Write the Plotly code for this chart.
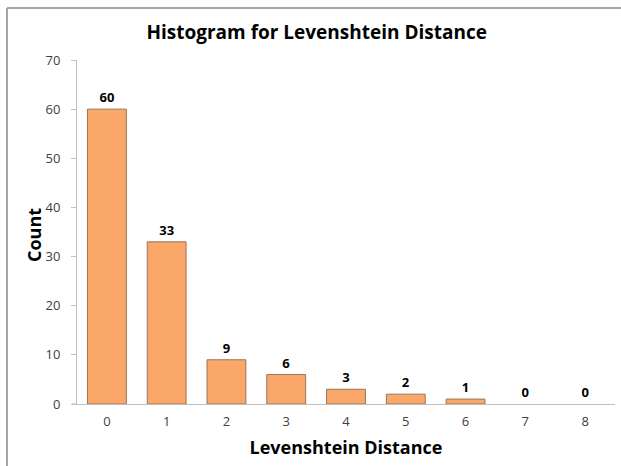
import plotly.graph_objects as go

categories = ["0", "1", "2", "3", "4", "5", "6", "7", "8"]
counts = [60, 33, 9, 6, 3, 2, 1, 0, 0]
y_ticks = [0, 10, 20, 30, 40, 50, 60, 70]

FONT = "Open Sans"

fig = go.Figure(
    go.Bar(
        x=categories,
        y=counts,
        text=[str(c) for c in counts],
        textposition="outside",
        textfont=dict(family=FONT, size=13, color="#000000", weight="bold"),
        marker=dict(
            color="#F9A86A",
            line=dict(color="#9A7558", width=[1 if c > 0 else 0 for c in counts]),
        ),
        cliponaxis=False,
    )
)

L, R, T, B = 77, 615, 60, 404
px_x = lambda p: (p - L) / (R - L)
px_y = lambda p: (B - p) / (B - T)

fig.update_layout(
    width=621,
    height=466,
    margin=dict(l=L, r=621 - R, t=T, b=466 - B),
    paper_bgcolor="white",
    plot_bgcolor="white",
    bargap=0.35,
    showlegend=False,
    title=dict(
        text="<b>Histogram for Levenshtein Distance</b>",
        x=0.51,
        xanchor="center",
        y=0.93,
        yanchor="middle",
        font=dict(family=FONT, size=19, color="#000000"),
    ),
    xaxis=dict(
        type="category",
        range=[-0.5, 8.5],
        showline=True,
        linecolor="#BFBFBF",
        linewidth=1,
        ticks="",
        showgrid=False,
        ticklabelstandoff=5,
        tickfont=dict(family=FONT, size=13, color="#404040"),
        title=dict(
            text="<b>Levenshtein Distance</b>",
            font=dict(family=FONT, size=18, color="#000000"),
            standoff=12,
        ),
    ),
    yaxis=dict(
        range=[0, 70],
        tickvals=y_ticks,
        showline=True,
        linecolor="#BFBFBF",
        linewidth=1,
        ticks="outside",
        ticklen=5,
        tickcolor="#BFBFBF",
        showgrid=False,
        zeroline=False,
        ticklabelstandoff=8,
        tickfont=dict(family=FONT, size=13, color="#404040"),
    ),
    annotations=[
        dict(
            text="<b>Count</b>",
            xref="paper",
            yref="paper",
            x=px_x(34),
            y=px_y(235),
            xanchor="center",
            yanchor="middle",
            textangle=-90,
            showarrow=False,
            font=dict(family=FONT, size=18, color="#000000"),
        )
    ],
    shapes=[
        dict(
            type="line",
            xref="paper",
            yref="paper",
            x0=px_x(72),
            x1=0,
            y0=0,
            y1=0,
            line=dict(color="#BFBFBF", width=1),
        ),
        dict(
            type="line",
            xref="paper",
            yref="paper",
            x0=px_x(7),
            x1=px_x(621),
            y0=px_y(8),
            y1=px_y(8),
            line=dict(color="#A6A6A6", width=2),
        ),
        dict(
            type="line",
            xref="paper",
            yref="paper",
            x0=px_x(7),
            x1=px_x(7),
            y0=px_y(8),
            y1=px_y(466),
            line=dict(color="#A6A6A6", width=2),
        ),
    ],
)

fig.write_html(
    "out.html",
    config={"displayModeBar": False},
    post_script="document.body.style.margin='0px';",
)
